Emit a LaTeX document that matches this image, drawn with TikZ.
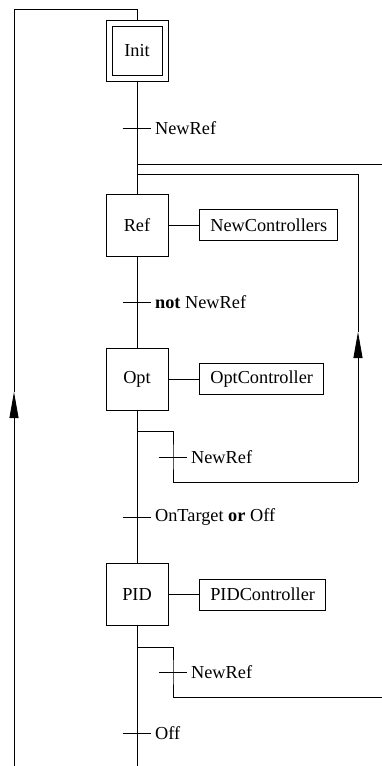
\documentclass[tikz,border=0pt]{standalone}
\usepackage{fontspec}
\setmainfont{Liberation Serif}
\usetikzlibrary{positioning,arrows.meta}
\begin{document}
\begin{tikzpicture}[x=1pt, y=-1pt, line width=0.8pt,
  every node/.style={font=\fontsize{18.3}{22}\selectfont},
  stepbox/.style={draw, minimum width=62pt, minimum height=62pt, inner sep=0pt},
  initinner/.style={draw, minimum width=50pt, minimum height=49pt, inner sep=0pt},
  actionbox/.style={draw, minimum height=31pt, inner xsep=10.5pt, inner ysep=0pt},
  trans/.style={minimum width=28pt, minimum height=0pt, inner sep=0pt},
  upflow/.style={-{Triangle[length=26pt, width=9pt]}}]
\useasboundingbox (0,0) rectangle (382,766);
% steps
\node[stepbox, minimum height=61pt] (init) at (137,50.5) {};
\node[initinner] (initin) at (init.center) {Init};
\node[stepbox] (ref) at (137,225) {Ref};
\node[stepbox] (opt) at (137,379) {Opt};
\node[stepbox] (pid) at (137,594.5) {PID};
% actions
\node[actionbox, right=31pt of ref] (refact) {NewControllers};
\node[actionbox, right=31pt of opt] (optact) {OptController};
\node[actionbox, right=31pt of pid] (pidact) {PIDController};
% transitions
\node[trans, label={right:NewRef}] (t1) at (137,128) {};
\node[trans, label={right:\textbf{not} NewRef}] (t2) at (137,302) {};
\node[trans, label={right:OnTarget \textbf{or} Off}] (t3) at (137,517) {};
\node[trans, label={right:Off}] (t4) at (137,733) {};
\node[trans, label={right:NewRef}] (t5) at (173,457) {};
\node[trans, label={right:NewRef}] (t6) at (173,672) {};
\foreach \t in {t1,t2,t3,t4,t5,t6}
  \draw (\t.west) -- (\t.east);
% points of the flow lines
\coordinate (mainend) at (137,766);
\coordinate (loopbot) at (14,766);
\coordinate (tip0) at (14,392);
\coordinate (loopcorner) at (14,9);
\coordinate (fork0) at (137,164);
\coordinate (exit0) at (382,164);
\coordinate (join1) at (137,174);
\coordinate (fork1) at (137,431);
\coordinate (back1) at (358,482);
\coordinate (tip1) at (358,332);
\coordinate (fork2) at (137,647);
\coordinate (exit2) at (382,697);
% main line
\draw (init) -- (ref) -- (opt) -- (pid) -- (mainend);
\draw (ref) -- (refact);
\draw (opt) -- (optact);
\draw (pid) -- (pidact);
% loop back to Init
\draw[upflow] (loopbot) -- (tip0);
\draw (tip0) -- (loopcorner) -| (init.north);
% branches
\draw (fork0) -- (exit0);
\draw (fork1) -| (t5.center) |- (back1);
\draw[upflow] (back1) -- (tip1);
\draw (tip1) |- (join1);
\draw (fork2) -| (t6.center) |- (exit2);
\end{tikzpicture}
\end{document}
